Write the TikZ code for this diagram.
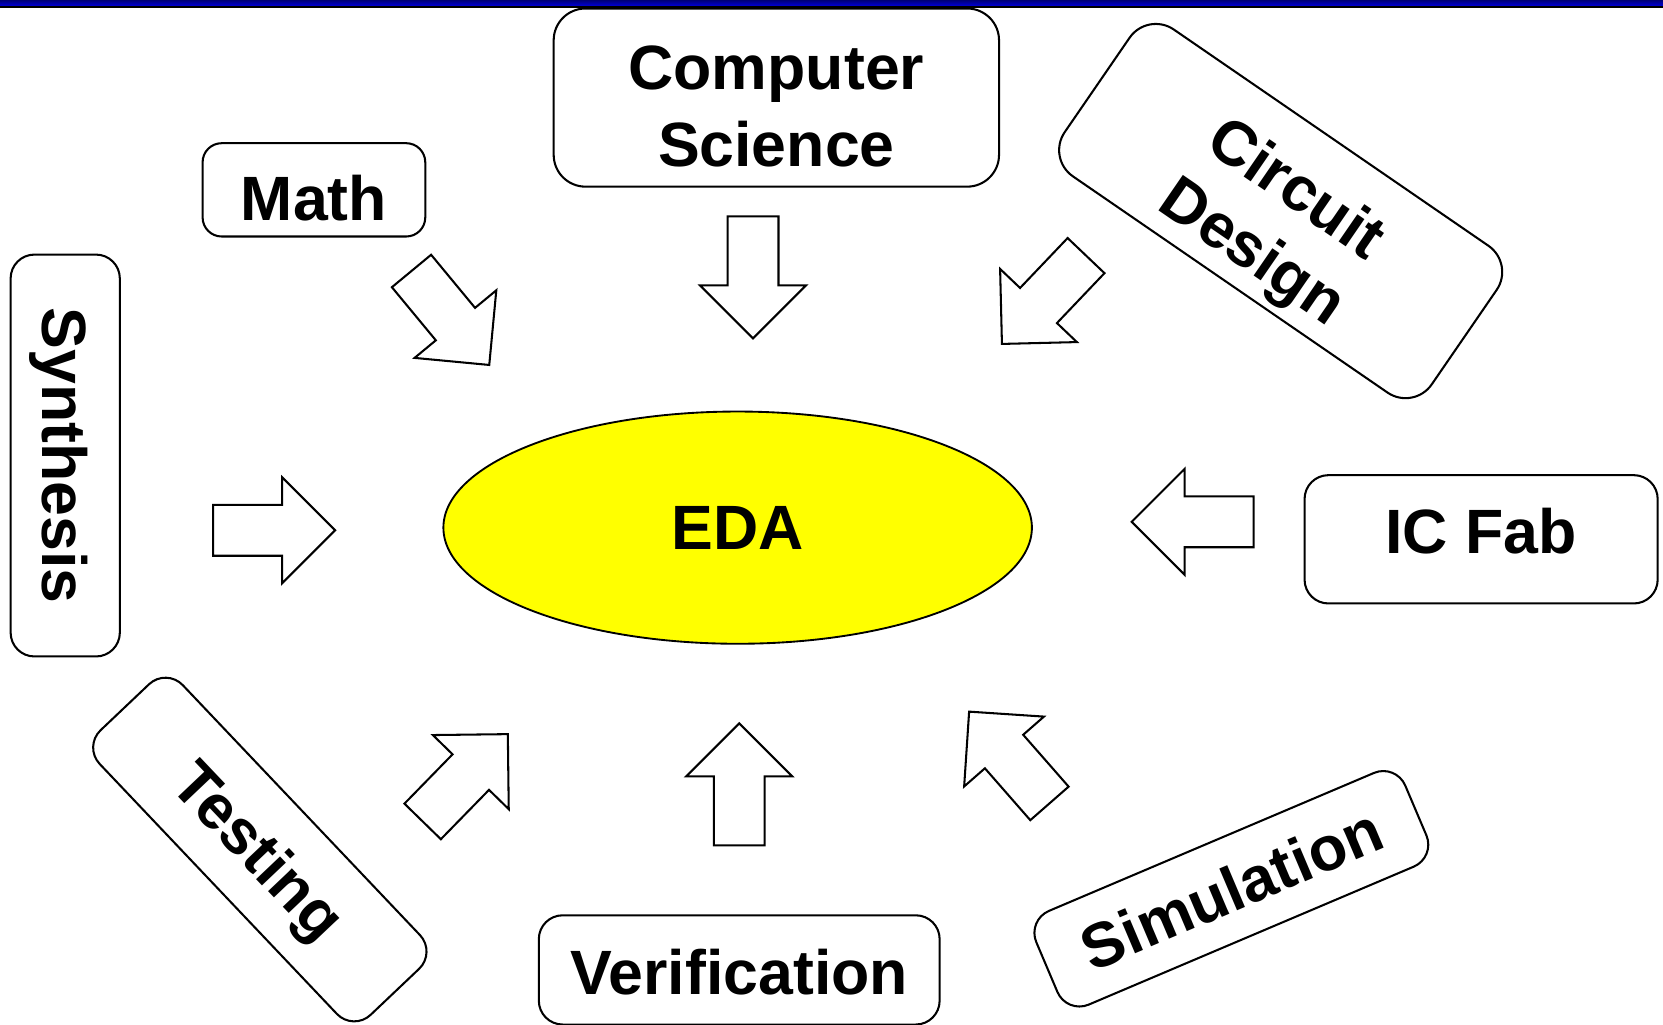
\documentclass[tikz,border=0pt]{standalone}
\usepackage{fontspec}
\setmainfont{Liberation Sans}
\usetikzlibrary{shapes.geometric}

\definecolor{edayellow}{RGB}{255,255,0}
\definecolor{rulenavy}{RGB}{0,0,120}
\definecolor{ruleblue}{RGB}{0,0,215}

\tikzset{
  lbl/.style={font=\fontsize{33.6pt}{41pt}\selectfont\bfseries},
  topicbox/.style={draw=black, line width=1.1pt, fill=white,
    rounded corners=0.45cm, inner sep=0pt, lbl, align=center},
  % single line of capitals centred in its box
  capline/.style={text height=24.2pt, text depth=0pt},
  % two stacked lines centred in their box (baseline is the last line)
  twoline/.style={text height=73.7pt, text depth=0pt},
  blockline/.style={draw=black, line width=1.1pt, fill=white, line join=miter},
  % hollow block arrow, tail centred on the origin, pointing along +x
  blockarrow/.pic={
    \path[blockline] (0,-24) -- (65,-24) -- (65,-50) -- (115,0)
      -- (65,50) -- (65,24) -- (0,24) -- cycle;
  }
}

\begin{document}
\begin{tikzpicture}[x=0.02cm, y=-0.02cm]
  \useasboundingbox (0,0) rectangle (1568,966);

  % title rule
  \shade[top color=rulenavy, bottom color=ruleblue] (0,0) rectangle (1568,5.5);
  \fill[black] (0,5.5) rectangle (1568,7.5);

  % centre
  \node[ellipse, draw=black, line width=1pt, fill=edayellow, inner sep=0pt,
        minimum width=11.1cm, minimum height=4.38cm, lbl] (eda) at (695.5,497.5) {EDA};

  % surrounding topics
  \node[topicbox, twoline, rounded corners=0.6cm, minimum width=8.4cm, minimum height=3.36cm]
    (cs) at (732,92) {Computer\\Science};
  \node[topicbox, rounded corners=0.36cm, minimum width=4.2cm, minimum height=1.76cm,
        text height=32.9pt, text depth=0pt]
    (math) at (296,179) {Math};
  \node[topicbox, capline, rotate=-90, minimum width=7.58cm, minimum height=2.06cm]
    (synth) at (61.5,429.5) {Synthesis};
  \node[topicbox, twoline, rotate=-34.5, rounded corners=0.6cm, minimum width=8.4cm, minimum height=3.36cm]
    (circuit) at (1207.5,199) {Circuit\\Design};
  \node[topicbox, minimum width=6.66cm, minimum height=2.42cm,
        text height=24.2pt, text depth=8.9pt]
    (icfab) at (1396.5,508.5) {IC Fab};
  \node[topicbox, minimum width=7.56cm, minimum height=2.06cm,
        text height=26.6pt, text depth=0pt]
    (verif) at (697,914.5) {Verification};
  \node[topicbox, capline, rotate=-46.5, minimum width=7.4cm, minimum height=2.16cm]
    (testing) at (245,801) {Testing};
  \node[topicbox, capline, rotate=23, minimum width=7.56cm, minimum height=1.92cm]
    (sim) at (1161,838) {Simulation};

  % block arrows pointing at the centre
  \pic[rotate=-90]    (csarrow)      at (710,204)      {blockarrow};
  \pic[rotate=-50.4]  (matharrow)    at (388,255.5)    {blockarrow};
  \pic[rotate=-133.6] (circuitarrow) at (1024,241)     {blockarrow};
  \pic[rotate=0]      (syntharrow)   at (201,500)      {blockarrow};
  \pic[rotate=180]    (icfabarrow)   at (1182,492)     {blockarrow};
  \pic[rotate=90]     (verifarrow)   at (697,797)      {blockarrow};
  \pic[rotate=45.7]   (testarrow)    at (398.5,774.5)  {blockarrow};
  \pic[rotate=131.2]  (simarrow)     at (989.5,757.5)  {blockarrow};
\end{tikzpicture}
\end{document}
